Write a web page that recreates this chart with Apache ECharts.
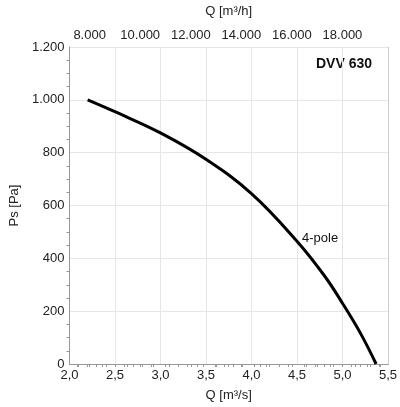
<!DOCTYPE html>
<html>
<head>
<meta charset="utf-8">
<script src="https://cdn.jsdelivr.net/npm/echarts@6/dist/echarts.min.js"></script>
<style>html,body{margin:0;padding:0;background:#fff}#c{width:400px;height:407px}</style>
</head>
<body>
<div id="c"></div>
<script>
// 风量 m³/s 和静压 Pa
const flowQ = [2.2, 2.5, 3.0, 3.5, 4.0, 4.5, 4.8, 5.0, 5.2, 5.37];
const pressurePs = [1000, 955, 875, 775, 645, 465, 335, 230, 115, 0];
const topLabelsM3h = [8000, 10000, 12000, 14000, 16000, 18000];
const topTicksM3h = [];
for (let v = 7500; v <= 19500; v += 500) topTicksM3h.push(v);

const fmtThousand = v => String(Math.round(v)).replace(/\B(?=(\d{3})+(?!\d))/g, '.');
const font = 'Liberation Sans';

const chart = echarts.init(document.getElementById('c'));
chart.setOption({
    animation: false,
    textStyle: { fontFamily: font },
    grid: { left: 68, right: 11, top: 45, bottom: 40 },
    xAxis: [{
        type: 'value', min: 2, max: 5.5, interval: 0.5, position: 'bottom',
        name: 'Q [m³/s]', nameLocation: 'middle', nameGap: 25,
        nameTextStyle: { fontSize: 13, color: '#222' },
        axisLine: { lineStyle: { color: '#999' } },
        axisTick: { show: false },
        minorTick: { show: true, splitNumber: 5, length: 3, lineStyle: { color: '#999' } },
        axisLabel: { fontSize: 13, color: '#222', margin: 5, formatter: v => v.toFixed(1).replace('.', ',') },
        splitLine: { lineStyle: { color: '#e6e6e6' } }
    }, {
        type: 'value', min: 2, max: 5.5, position: 'top',
        name: 'Q [m³/h]', nameLocation: 'middle', nameGap: 29,
        nameTextStyle: { fontSize: 13, color: '#222' },
        axisLine: { lineStyle: { color: '#999' } },
        axisTick: { show: true, length: 3, inside: true, customValues: topTicksM3h.map(v => v / 3600), lineStyle: { color: '#999' } },
        axisLabel: { fontSize: 13, color: '#222', margin: 5, customValues: topLabelsM3h.map(v => v / 3600), formatter: v => fmtThousand(v * 3600) },
        splitLine: { show: false }
    }],
    yAxis: [{
        type: 'value', min: 0, max: 1200, interval: 200,
        name: 'Ps [Pa]', nameLocation: 'middle', nameGap: 48,
        nameTextStyle: { fontSize: 13, color: '#222' },
        axisLine: { show: true, lineStyle: { color: '#999' } },
        axisTick: { show: false },
        minorTick: { show: true, splitNumber: 4, length: 3, lineStyle: { color: '#999' } },
        axisLabel: { fontSize: 13, color: '#222', margin: 5, formatter: v => fmtThousand(v) },
        splitLine: { lineStyle: { color: '#e6e6e6' } }
    }, {
        type: 'value', min: 0, max: 1200, position: 'right',
        axisLine: { show: true, lineStyle: { color: '#ccc' } },
        axisTick: { show: false }, axisLabel: { show: false }, splitLine: { show: false }
    }],
    graphic: [
        { type: 'text', right: 28, top: 57, style: { text: 'DVV 630', font: 'bold 14px ' + font, fill: '#111' } },
        { type: 'text', left: 302, top: 232, style: { text: '4-pole', font: '13px ' + font, fill: '#111' } }
    ],
    series: [{
        type: 'line', smooth: 0.4, symbol: 'none',
        lineStyle: { color: '#000', width: 3 },
        data: flowQ.map((q, i) => [q, pressurePs[i]])
    }]
});
</script>
</body>
</html>
